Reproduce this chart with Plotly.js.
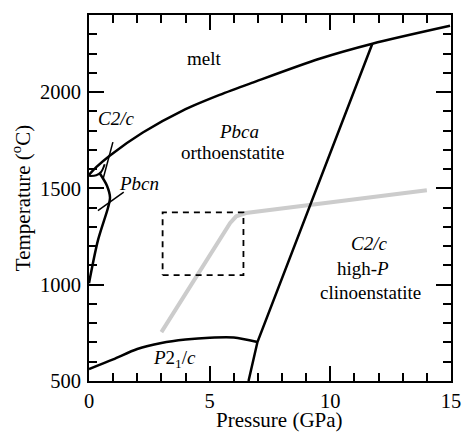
<!DOCTYPE html>
<html><head><meta charset="utf-8">
<script src="https://cdn.plot.ly/plotly-3.0.1.min.js"></script>
<style>html,body{margin:0;padding:0;background:#fff}#chart{width:462px;height:433px}</style>
</head><body><div id="chart"></div>
<script>
// Phase boundaries (Pressure GPa, Temperature °C)
const meltP = [0, 0.3, 0.87, 2.23, 3.88, 5.41, 6.78, 9.55, 11.74, 14.96];
const meltT = [1570, 1610, 1671, 1790, 1904, 1985, 2049, 2173, 2251, 2344];
const opxCpxP = [11.74, 6.98, 6.61];
const opxCpxT = [2251, 702, 500];
const p21cP = [0, 1, 2, 3, 4, 5, 6, 6.98];
const p21cT = [562, 612, 666, 697, 715, 725, 726, 702];
const pbcnP = [0.45, 0.74, 0.87, 0.79, 0.37, 0];
const pbcnT = [1577, 1515, 1453, 1401, 1230, 1008];
const c2cLensP = [0, 0.3, 0.5, 0.65];
const c2cLensT = [1565, 1568, 1585, 1625];
const c2cLeaderP = [0.99, 0.58];
const c2cLeaderT = [1740, 1547];
const pbcnLeaderP = [0.37, 1.44];
const pbcnLeaderT = [1385, 1480];
const grayP = [3.0, 5.85, 6.1, 6.5, 14.0];
const grayT = [754, 1320, 1355, 1372, 1490];
const boxP = [3.05, 6.4, 6.4, 3.05, 3.05];
const boxT = [1050, 1050, 1375, 1375, 1050];

const labelText = ['melt', '<i>C2/c</i>', '<i>Pbca</i>', 'orthoenstatite', '<i>Pbcn</i>',
  '<i>C2/c</i>', 'high-<i>P</i>', 'clinoenstatite', '<i>P</i>2<sub>1</sub>/<i>c</i>'];
const labelP = [4.78, 1.11, 6.22, 5.93, 2.06, 11.62, 11.37, 11.66, 3.54];
const labelT = [2173, 1862, 1795, 1686, 1526, 1215, 1085, 961, 614];

const xTitle = 'Pressure (GPa)';
const yTitle = 'Temperature (<sup>o</sup>C)';

const blk = {color: '#000', width: 2.5};
const blkS = {color: '#000', width: 2.5, shape: 'spline', smoothing: 0.8};
const line = (x, y, l) => ({x, y, mode: 'lines', line: l, hoverinfo: 'skip', showlegend: false, type: 'scatter'});
const traces = [
  line(grayP, grayT, {color: '#cccccc', width: 4}),
  line(boxP, boxT, {color: '#000', width: 1.8, dash: '6px,5px'}),
  line(meltP, meltT, blkS),
  line(opxCpxP, opxCpxT, blk),
  line(p21cP, p21cT, blkS),
  line(pbcnP, pbcnT, blkS),
  line(c2cLensP, c2cLensT, {color: '#000', width: 2, shape: 'spline'}),
  line(c2cLeaderP, c2cLeaderT, {color: '#000', width: 1.5}),
  line(pbcnLeaderP, pbcnLeaderT, {color: '#000', width: 1.5})
];

const FAM = '"Liberation Serif", "Times New Roman", Times, "DejaVu Serif", serif';
const mk = (s) => ({family: FAM, size: s || 19, color: '#000'});
const annotations = labelText.map((t, i) => ({
  x: labelP[i], y: labelT[i], xref: 'x', yref: 'y', text: t, showarrow: false, font: mk(19)
}));
annotations.push({
  x: 0.526, y: -0.072, xref: 'paper', yref: 'paper', xanchor: 'center', yanchor: 'top',
  text: xTitle, showarrow: false, font: mk(21), borderpad: 0
});

const axisCommon = () => ({
  showgrid: false, zeroline: false, showline: true, linecolor: '#000', linewidth: 2,
  mirror: 'ticks', ticks: 'inside', ticklen: 15, tickwidth: 2, tickcolor: '#000',
  tickfont: mk(20.5)
});
const layout = {
  width: 462, height: 433,
  margin: {l: 89, r: 11, t: 15, b: 52},
  paper_bgcolor: '#fff', plot_bgcolor: '#fff',
  font: mk(19),
  xaxis: Object.assign(axisCommon(), {
    range: [0, 15], tickvals: [0, 5, 10, 15], ticktext: ['0', '5', '10', '15'],
    minor: {ticks: 'inside', dtick: 1, ticklen: 8, tickwidth: 2, tickcolor: '#000', showgrid: false}
  }),
  yaxis: Object.assign(axisCommon(), {
    range: [500, 2400], tickvals: [500, 1000, 1500, 2000], ticktext: ['500', '1000', '1500', '2000'],
    minor: {ticks: 'inside', dtick: 100, ticklen: 8, tickwidth: 2, tickcolor: '#000', showgrid: false},
    ticklabelstandoff: 2,
    title: {text: yTitle, font: mk(21), standoff: 4}
  }),
  annotations
};
Plotly.newPlot('chart', traces, layout, {staticPlot: true, displayModeBar: false});
</script></body></html>
